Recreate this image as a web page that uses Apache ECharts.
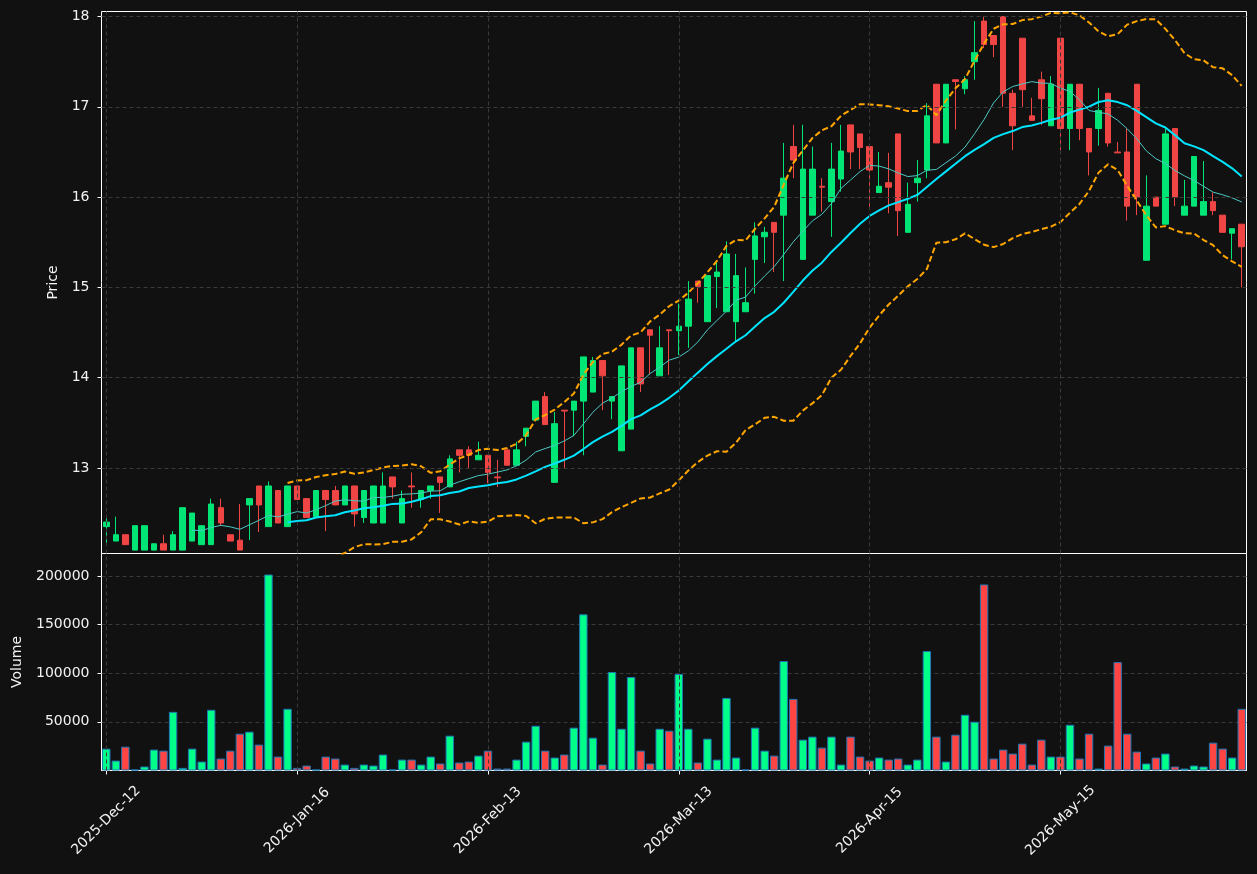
<!DOCTYPE html>
<html>
<head>
<meta charset="utf-8">
<script src="https://cdn.jsdelivr.net/npm/echarts@6/dist/echarts.min.js"></script>
<style>
  html, body { margin: 0; padding: 0; background: #111111; }
  #chart { width: 1257px; height: 874px; }
</style>
</head>
<body>
<div id="chart"></div>
<script>
// trading days, written out per month
var days = {
  '2025-Dec': [12, 15, 16, 17, 18, 19, 22, 23, 29, 30, 31],
  '2026-Jan': [5, 6, 7, 8, 9, 12, 13, 14, 15, 16, 19, 20, 21, 22, 23, 26, 27, 28, 29, 30],
  '2026-Feb': [2, 3, 4, 5, 6, 9, 10, 11, 12, 13, 16, 17, 18, 19, 20, 23, 24, 25, 26, 27],
  '2026-Mar': [2, 3, 4, 5, 6, 9, 10, 11, 12, 13, 16, 17, 18, 19, 23, 24, 25, 26, 27, 30, 31],
  '2026-Apr': [1, 2, 7, 8, 9, 10, 13, 14, 15, 16, 20, 21, 22, 23, 24, 27, 28, 29, 30],
  '2026-May': [4, 5, 6, 7, 8, 11, 12, 13, 14, 15, 18, 19, 20, 21, 22, 26, 27, 28, 29],
  '2026-Jun': [1, 2, 3, 4, 5, 8, 9, 10, 11, 12]
};
var tickLabels = ['2025-Dec-12', '2026-Jan-16', '2026-Feb-13', '2026-Mar-13', '2026-Apr-15', '2026-May-15'];
var priceTicks = [13, 14, 15, 16, 17, 18];

var open = [
  12.35, 12.19, 12.26, 12.09, 12.09, 12.09, 12.16, 12.09, 12.09, 12.19,
  12.15, 12.15, 12.56, 12.26, 12.20, 12.59, 12.80, 12.35, 12.75, 12.35,
  12.80, 12.66, 12.46, 12.75, 12.75, 12.59, 12.80, 12.45, 12.39, 12.39,
  12.90, 12.39, 12.80, 12.65, 12.75, 12.90, 12.79, 13.20, 13.20, 13.09,
  13.14, 12.90, 13.20, 13.03, 13.35, 13.53, 13.79, 12.84, 13.64, 13.64,
  13.74, 13.84, 14.19, 13.74, 13.19, 13.43, 14.33, 14.53, 14.02, 14.53,
  14.52, 14.57, 15.07, 14.62, 15.12, 14.73, 14.62, 14.73, 15.31, 15.56,
  15.72, 15.80, 16.56, 15.31, 15.80, 16.12, 15.95, 16.20, 16.80, 16.70,
  16.56, 16.05, 16.16, 16.70, 15.61, 16.16, 16.30, 17.25, 16.60, 17.30,
  17.20, 17.50, 17.95, 17.79, 18.00, 17.15, 17.76, 16.90, 17.30, 16.79,
  17.76, 16.76, 17.25, 16.76, 16.76, 17.15, 16.50, 16.50, 17.25, 15.30,
  16.00, 15.70, 16.76, 15.80, 15.90, 15.80, 15.95, 15.80, 15.60, 15.70
];
var close = [
  12.40, 12.26, 12.15, 12.36, 12.36, 12.16, 12.09, 12.26, 12.56, 12.50,
  12.36, 12.60, 12.39, 12.19, 12.09, 12.66, 12.59, 12.80, 12.39, 12.80,
  12.65, 12.45, 12.75, 12.65, 12.59, 12.80, 12.49, 12.75, 12.80, 12.80,
  12.79, 12.66, 12.79, 12.75, 12.80, 12.84, 13.10, 13.14, 13.14, 13.14,
  12.95, 12.89, 13.03, 13.20, 13.44, 13.74, 13.48, 13.49, 13.63, 13.74,
  14.23, 14.19, 14.02, 13.79, 14.13, 14.33, 13.93, 14.47, 14.33, 14.52,
  14.57, 14.87, 15.01, 15.13, 15.17, 15.37, 15.13, 14.83, 15.57, 15.61,
  15.61, 16.21, 16.41, 16.31, 16.31, 16.11, 16.31, 16.51, 16.50, 16.55,
  16.30, 16.12, 16.11, 15.85, 15.92, 16.21, 16.90, 16.60, 17.25, 17.28,
  17.30, 17.60, 17.69, 17.69, 17.15, 16.79, 17.19, 16.85, 17.09, 17.25,
  16.76, 17.25, 16.76, 16.50, 16.96, 16.60, 16.49, 15.90, 16.00, 15.90,
  15.90, 16.70, 16.00, 15.90, 16.45, 15.95, 15.85, 15.61, 15.65, 15.45
];
var low = [
  12.16, 12.19, 12.15, 12.09, 12.09, 12.09, 12.09, 12.09, 12.09, 12.19,
  12.15, 12.15, 12.36, 12.19, 12.09, 12.20, 12.29, 12.35, 12.39, 12.35,
  12.65, 12.45, 12.46, 12.30, 12.59, 12.59, 12.35, 12.39, 12.39, 12.39,
  12.66, 12.39, 12.56, 12.56, 12.66, 12.50, 12.79, 12.95, 13.00, 13.09,
  12.83, 12.79, 13.03, 13.03, 13.24, 13.53, 13.48, 12.84, 13.00, 13.35,
  13.14, 13.84, 13.64, 13.54, 13.19, 13.43, 13.84, 14.03, 14.02, 14.03,
  14.25, 14.33, 14.83, 14.62, 14.77, 14.73, 14.39, 14.73, 14.93, 15.27,
  15.17, 15.07, 16.21, 15.31, 15.80, 15.84, 15.56, 16.06, 16.31, 16.31,
  15.87, 16.05, 15.82, 15.57, 15.61, 15.95, 16.21, 16.60, 16.60, 16.75,
  17.14, 17.30, 17.65, 17.55, 17.00, 16.52, 17.00, 16.85, 16.80, 16.79,
  16.52, 16.52, 16.63, 16.24, 16.57, 16.56, 16.49, 15.74, 15.80, 15.30,
  15.90, 15.70, 15.90, 15.80, 15.90, 15.80, 15.80, 15.61, 15.31, 15.00
];
var high = [
  12.46, 12.46, 12.26, 12.36, 12.36, 12.16, 12.26, 12.30, 12.56, 12.50,
  12.36, 12.66, 12.66, 12.26, 12.60, 12.66, 12.80, 12.85, 12.75, 12.80,
  12.80, 12.66, 12.75, 12.75, 12.80, 12.80, 12.80, 12.75, 12.80, 12.95,
  12.90, 12.75, 12.95, 12.75, 12.80, 12.90, 13.14, 13.20, 13.24, 13.29,
  13.14, 13.09, 13.20, 13.29, 13.44, 13.74, 13.84, 13.62, 13.64, 13.74,
  14.23, 14.23, 14.19, 13.79, 14.13, 14.33, 14.33, 14.53, 14.57, 14.53,
  14.82, 15.07, 15.07, 15.13, 15.29, 15.51, 15.37, 15.22, 15.72, 15.67,
  15.72, 16.60, 16.80, 16.80, 16.56, 16.21, 16.60, 16.80, 16.80, 16.70,
  16.56, 16.50, 16.49, 16.70, 16.16, 16.41, 17.04, 17.25, 17.25, 17.30,
  17.34, 17.95, 18.00, 17.79, 18.00, 17.19, 17.76, 17.10, 17.39, 17.34,
  17.76, 17.25, 17.25, 16.76, 17.21, 17.15, 16.61, 16.76, 17.25, 16.24,
  16.00, 16.76, 16.76, 16.19, 16.45, 16.40, 16.05, 15.80, 15.65, 15.70
];
var volume = [
  22500, 10200, 24500, 1000, 4100, 21500, 20400, 60300, 2700, 22500,
  9200, 62400, 12300, 20400, 37800, 39900, 26600, 201400, 14300, 63400,
  2700, 5100, 1000, 14300, 12300, 6100, 2700, 6100, 5100, 16400,
  1000, 11200, 11200, 6100, 14300, 7200, 35800, 8200, 9200, 15300,
  20400, 2000, 2000, 11200, 29600, 46000, 20400, 13300, 16400, 44000,
  160500, 33700, 6100, 101200, 42900, 96100, 20400, 7200, 42900, 40900,
  99200, 42900, 8200, 32700, 11200, 74600, 13300, 1000, 44000, 20400,
  15300, 112500, 73600, 31700, 34800, 23500, 34800, 6100, 34800, 14300,
  10200, 13300, 11200, 12300, 6100, 11200, 122700, 34800, 9200, 36800,
  57300, 50100, 191200, 12300, 21500, 17400, 27600, 6100, 31700, 14300,
  14300, 47000, 12300, 37800, 2000, 25600, 111400, 37800, 19400, 7200,
  13300, 17400, 4100, 2000, 5100, 4100, 28600, 22500, 13300, 63400
];

var UP = '#00e676', DOWN = '#f04545';
var VUP = '#00ff88', VDOWN = '#ff4444';
var FONT = 'DejaVu Sans', TXT = '#f2f2f2', GRIDC = '#3a3a3a';

var dates = [];
Object.keys(days).forEach(function (m) {
  days[m].forEach(function (d) { dates.push(m + '-' + (d < 10 ? '0' + d : d)); });
});

// rolling mean / std of the closes
function sma(n) {
  return close.map(function (v, i) {
    if (i < n - 1) return null;
    var s = 0;
    for (var k = i - n + 1; k <= i; k++) s += close[k];
    return +(s / n).toFixed(4);
  });
}
function band(n, mult, sign) {
  var m = sma(n);
  return close.map(function (v, i) {
    if (m[i] == null) return null;
    var s = 0;
    for (var k = i - n + 1; k <= i; k++) s += Math.pow(close[k] - m[i], 2);
    var sd = Math.sqrt(s / (n - 1));
    return +(m[i] + sign * mult * sd).toFixed(4);
  });
}

var candles = dates.map(function (d, i) { return [open[i], close[i], low[i], high[i]]; });
var volBars = volume.map(function (v, i) {
  return { value: v, itemStyle: { color: close[i] >= open[i] ? VUP : VDOWN } };
});

var dashed = { color: GRIDC, width: 1, type: [4, 3] };
var vLines = tickLabels.map(function (t) { return { xAxis: t }; });
var hLines = priceTicks.map(function (p) { return { yAxis: p }; });
var labelStyle = { color: TXT, fontSize: 14, fontFamily: FONT, margin: 12 };

var chart = echarts.init(document.getElementById('chart'));
var option = {
  backgroundColor: '#111111',
  animation: false,
  textStyle: { fontFamily: FONT },
  grid: [
    { left: 101.5, right: 10.5, top: 11.5, height: 542, show: true, borderColor: '#ffffff', borderWidth: 1 },
    { left: 101.5, right: 10.5, top: 553.5, height: 217, show: true, borderColor: '#ffffff', borderWidth: 1 }
  ],
  xAxis: [
    {
      type: 'category', gridIndex: 0, data: dates, boundaryGap: true,
      axisLine: { show: false }, axisTick: { show: false }, axisLabel: { show: false }, splitLine: { show: false }
    },
    {
      type: 'category', gridIndex: 1, data: dates, boundaryGap: true,
      axisLine: { show: true, lineStyle: { color: '#ffffff' } },
      axisTick: { show: true, alignWithLabel: true, interval: 19, length: 4, lineStyle: { color: '#ffffff' } },
      axisLabel: {
        interval: 19, rotate: 45, align: 'center', verticalAlign: 'middle', margin: 50,
        color: TXT, fontSize: 14, fontFamily: FONT
      },
      splitLine: { show: false }
    }
  ],
  yAxis: [
    {
      type: 'value', gridIndex: 0, min: 12.052, max: 18.056,
      name: 'Price', nameLocation: 'middle', nameGap: 37,
      nameTextStyle: { color: TXT, fontSize: 14, fontFamily: FONT },
      axisLine: { show: false },
      axisTick: { show: true, length: 4, customValues: priceTicks, lineStyle: { color: '#ffffff' } },
      axisLabel: Object.assign({ customValues: priceTicks }, labelStyle),
      splitLine: { show: false }
    },
    {
      type: 'value', gridIndex: 1, min: 0, max: 223000, interval: 50000,
      name: 'Volume', nameLocation: 'middle', nameGap: 77,
      nameTextStyle: { color: TXT, fontSize: 14, fontFamily: FONT },
      axisLine: { show: false },
      axisTick: { show: true, length: 4, lineStyle: { color: '#ffffff' } },
      axisLabel: Object.assign({
        showMinLabel: false, showMaxLabel: false,
        formatter: function (v) { return String(v); }
      }, labelStyle),
      splitLine: { show: true, showMaxLine: false, lineStyle: dashed }
    }
  ],
  series: [
    {
      // price panel grid lines
      name: 'pgrid', type: 'line', xAxisIndex: 0, yAxisIndex: 0, data: [], z: 1,
      markLine: { silent: true, symbol: 'none', label: { show: false }, lineStyle: dashed, data: hLines.concat(vLines) }
    },
    {
      name: 'vgrid', type: 'line', xAxisIndex: 1, yAxisIndex: 1, data: [], z: 1,
      markLine: { silent: true, symbol: 'none', label: { show: false }, lineStyle: dashed, data: vLines }
    },
    {
      name: 'OHLC', type: 'candlestick', xAxisIndex: 0, yAxisIndex: 0, data: candles, barWidth: 6, z: 3,
      itemStyle: { color: UP, color0: DOWN, borderColor: UP, borderColor0: DOWN, borderWidth: 1 }
    },
    {
      name: 'MA10', type: 'line', xAxisIndex: 0, yAxisIndex: 0, data: sma(10), showSymbol: false, z: 4,
      lineStyle: { color: '#4cc9c4', width: 1 }
    },
    {
      name: 'MA20', type: 'line', xAxisIndex: 0, yAxisIndex: 0, data: sma(20), showSymbol: false, z: 4,
      lineStyle: { color: '#00e5ff', width: 2 }
    },
    {
      name: 'BB upper', type: 'line', xAxisIndex: 0, yAxisIndex: 0, data: band(20, 2, 1), showSymbol: false, z: 4,
      lineStyle: { color: '#ffa500', width: 2, type: [6, 3] }
    },
    {
      name: 'BB lower', type: 'line', xAxisIndex: 0, yAxisIndex: 0, data: band(20, 2, -1), showSymbol: false, z: 4,
      lineStyle: { color: '#ffa500', width: 2, type: [6, 3] }
    },
    {
      name: 'Volume', type: 'bar', xAxisIndex: 1, yAxisIndex: 1, data: volBars, barWidth: 8.4, z: 3,
      itemStyle: { borderColor: '#1f77b4', borderWidth: 1 }
    }
  ]
};
chart.setOption(option);
</script>
</body>
</html>
